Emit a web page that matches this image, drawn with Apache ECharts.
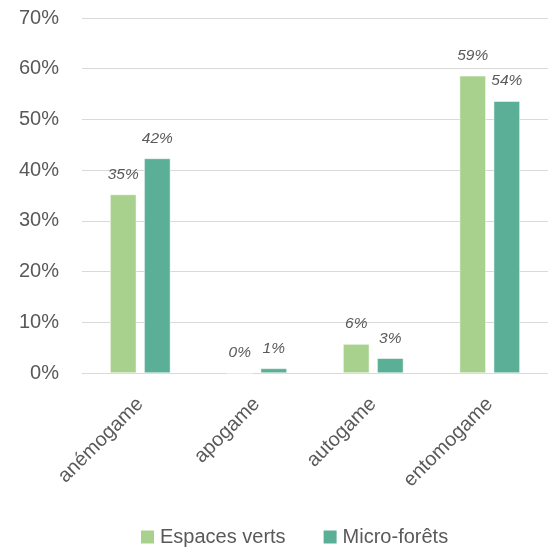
<!DOCTYPE html>
<html><head><meta charset="utf-8">
<script src="https://cdn.jsdelivr.net/npm/echarts@6/dist/echarts.min.js"></script>
<style>html,body{margin:0;padding:0;background:#fff}#c{width:548px;height:550px}</style>
</head><body><div id="c"></div>
<script>
const categories = ['anémogame', 'apogame', 'autogame', 'entomogame'];
const espacesVerts = [35.2, 0, 5.7, 58.6];
const microForets = [42.3, 0.9, 2.9, 53.6];
const seriesNames = ['Espaces verts', 'Micro-forêts'];
const yTicks = [0, 10, 20, 30, 40, 50, 60, 70];

const font = 'Liberation Sans';
const txt = '#595959';
const labelCfg = {
  show: true, position: 'top', distance: 12,
  fontFamily: font, fontSize: 15.5, fontStyle: 'italic', color: txt,
  formatter: p => Math.round(p.value) + '%'
};
const chart = echarts.init(document.getElementById('c'));
chart.setOption({
  animation: false,
  textStyle: { fontFamily: font },
  grid: { left: 82, top: 18, width: 471, height: 355, containLabel: false },
  legend: {
    bottom: -2, left: 134, itemWidth: 15, itemHeight: 15, itemGap: 36, icon: 'rect',
    textStyle: { fontFamily: font, fontSize: 20, color: txt },
    data: seriesNames
  },
  xAxis: {
    type: 'category', data: categories,
    axisLine: { show: true, lineStyle: { color: '#d9d9d9', width: 1 } },
    axisTick: { show: false },
    axisLabel: { rotate: 45, fontFamily: font, fontSize: 20, color: txt, margin: 28, interval: 0 }
  },
  yAxis: {
    type: 'value', min: yTicks[0], max: yTicks[yTicks.length - 1], interval: 10,
    axisLine: { show: false }, axisTick: { show: false },
    splitLine: { lineStyle: { color: '#d9d9d9', width: 1 } },
    axisLabel: { fontFamily: font, fontSize: 20, color: txt, margin: 23, formatter: v => v + '%' }
  },
  series: [
    { name: seriesNames[0], type: 'bar', data: espacesVerts, barWidth: '22.5%', barGap: '30%',
      itemStyle: { color: '#A9D18E', borderColor: '#ffffff', borderWidth: 0.5 }, label: labelCfg },
    { name: seriesNames[1], type: 'bar', data: microForets, barWidth: '22.5%', barGap: '30%',
      itemStyle: { color: '#5BAF97', borderColor: '#ffffff', borderWidth: 0.5 }, label: labelCfg }
  ]
});
</script></body></html>
